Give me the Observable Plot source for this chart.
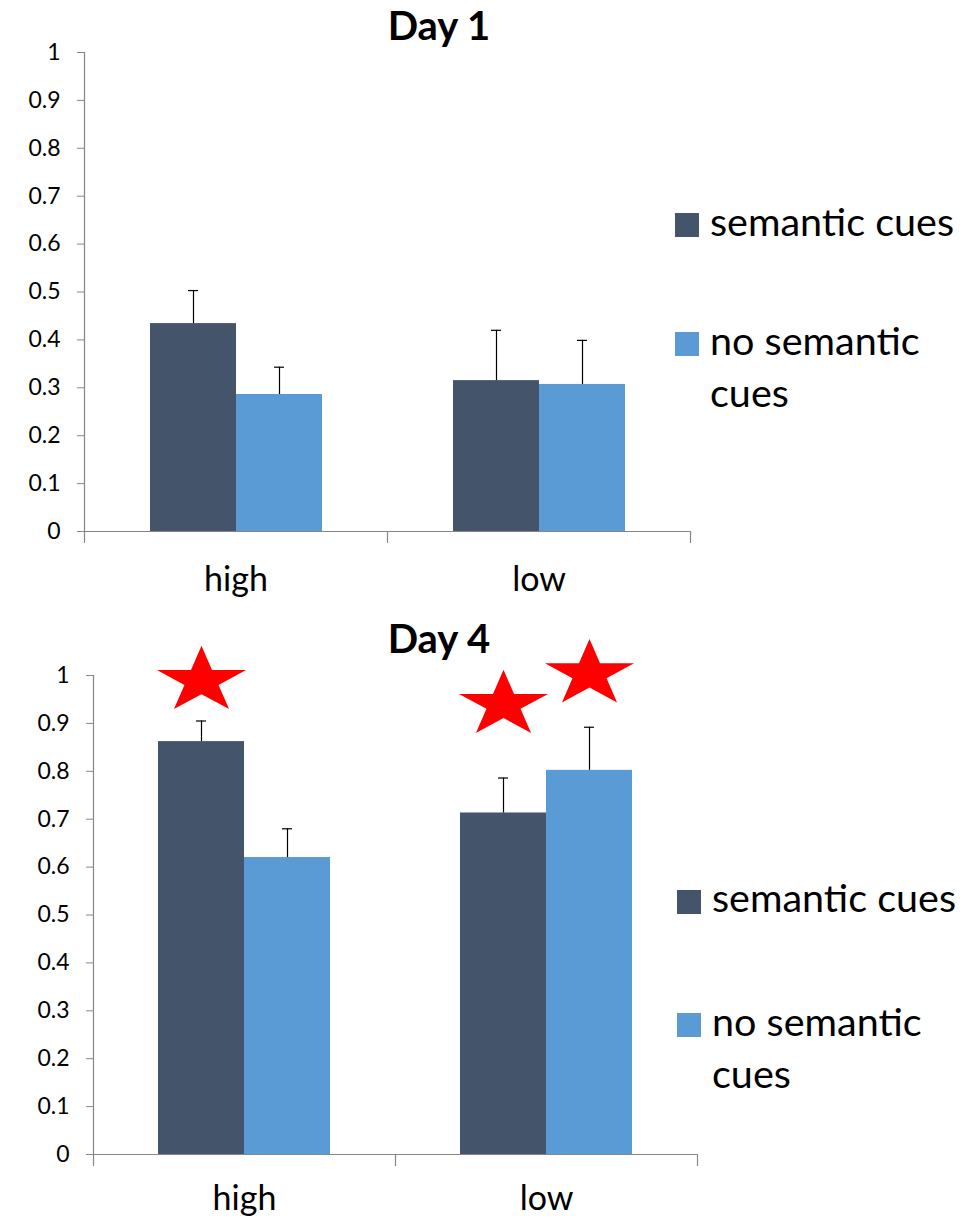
<!DOCTYPE html>
<html><head><meta charset="utf-8">
<script src="https://cdn.jsdelivr.net/npm/d3@7"></script>
<script src="https://cdn.jsdelivr.net/npm/@observablehq/plot@0.6"></script>
<style>
body{margin:0;background:#fff;font-family:Lato,sans-serif;}
#page{position:relative;width:963px;height:1219px;overflow:hidden;background:#fff;}
.chart{position:absolute;left:0;}
.title{position:absolute;font-weight:bold;font-size:40px;line-height:1;transform:translateX(-50%);white-space:nowrap;color:#000;}
.sw{position:absolute;width:24px;height:24px;}
.lt{position:absolute;font-size:39.5px;line-height:52px;white-space:nowrap;color:#000;}
</style></head><body><div id="page"></div>
<script>
// ---- data ----
const categories = ["high", "low"];
const series = ["semantic cues", "no semantic cues"];
const seriesColors = ["#44546A", "#5B9BD5"];
const yTickLabels = ["0","0.1","0.2","0.3","0.4","0.5","0.6","0.7","0.8","0.9","1"];

const day1Semantic = [0.434, 0.315];
const day1SemanticErr = [0.069, 0.105];
const day1NoSemantic = [0.286, 0.307];
const day1NoSemanticErr = [0.057, 0.092];

const day4Semantic = [0.862, 0.713];
const day4SemanticErr = [0.043, 0.073];
const day4NoSemantic = [0.620, 0.802];
const day4NoSemanticErr = [0.060, 0.090];

const day4StarCategories = ["high", "low", "low"];
const day4StarSeries = ["semantic cues", "semantic cues", "no semantic cues"];
const day4StarY = [0.989, 0.939, 1.003];

// ---- helpers ----
function rowsOf(sem, semErr, no, noErr) {
  return categories.flatMap((c, i) => [
    {cat: c, series: series[0], value: sem[i], err: semErr[i]},
    {cat: c, series: series[1], value: no[i], err: noErr[i]}
  ]);
}
const starSymbol = {
  draw(ctx, size) {
    const R = Math.sqrt(size / Math.PI), r = R * 0.382, sx = 1.34;
    for (let k = 0; k < 10; k++) {
      const rad = k % 2 ? r : R, a = Math.PI * k / 5;
      const px = Math.sin(a) * rad * sx, py = -Math.cos(a) * rad;
      if (k) ctx.lineTo(px, py); else ctx.moveTo(px, py);
    }
    ctx.closePath();
  }
};
const gray = "#868686";

function makeChart({rows, stars, height, marginTop, marginBottom, marginLeft, marginRight, labelPadding}) {
  const marks = [
    Plot.barY(rows, {fx: "cat", x: "series", y: "value", fill: "series"}),
    Plot.ruleX(rows, {fx: "cat", x: "series", y1: "value", y2: d => d.value + d.err, stroke: "#000", strokeWidth: 1.2}),
    Plot.tickY(rows, {fx: "cat", x: "series", y: d => d.value + d.err, stroke: "#000", strokeWidth: 1.2, insetLeft: 38, insetRight: 38}),
    Plot.ruleY([0], {stroke: gray, strokeWidth: 1.2}),
    Plot.frame({anchor: "left", facetAnchor: "left", stroke: gray, strokeWidth: 1.2}),
    Plot.vector(categories, {fx: d => d, frameAnchor: "bottom-left", length: 11, rotate: 180, anchor: "start", r: 0, stroke: gray, strokeWidth: 1.2}),
    Plot.vector([categories[categories.length - 1]], {fx: d => d, frameAnchor: "bottom-right", length: 11, rotate: 180, anchor: "start", r: 0, stroke: gray, strokeWidth: 1.2}),
    Plot.axisY({ticks: yTickLabels.map(Number), tickFormat: (d, i) => yTickLabels[i], tickSize: 7, tickPadding: 17, fontSize: 23, stroke: gray, fill: "#000", facetAnchor: "left", label: null}),
    Plot.axisFx({anchor: "bottom", tickSize: 0, tickPadding: labelPadding, fontSize: 34, fill: "#000", label: null})
  ];
  if (stars) marks.push(Plot.dot(stars, {fx: "cat", x: "series", y: "y", symbol: starSymbol, r: 35, fill: "#FF0000", stroke: "none"}));
  return Plot.plot({
    width: 963, height, marginTop, marginBottom, marginLeft, marginRight,
    fx: {domain: categories, padding: 0, axis: null, label: null},
    x: {domain: series, paddingInner: 0, paddingOuter: 0.744, axis: null, label: null},
    y: {domain: [0, 1], axis: null, label: null},
    color: {domain: series, range: seriesColors},
    style: {fontFamily: "Lato, sans-serif", background: "transparent", overflow: "visible"},
    marks
  });
}

const page = document.getElementById("page");
function place(el, top) { el.classList.add("chart"); el.style.top = top + "px"; page.appendChild(el); }

const c1 = makeChart({rows: rowsOf(day1Semantic, day1SemanticErr, day1NoSemantic, day1NoSemanticErr),
  height: 600, marginTop: 52, marginBottom: 69, marginLeft: 83, marginRight: 273, labelPadding: 35});
place(c1, 0);
const stars = day4StarY.map((y, i) => ({cat: day4StarCategories[i], series: day4StarSeries[i], y}));
const c2 = makeChart({rows: rowsOf(day4Semantic, day4SemanticErr, day4NoSemantic, day4NoSemanticErr), stars,
  height: 619, marginTop: 75, marginBottom: 65, marginLeft: 92, marginRight: 266, labelPadding: 31});
place(c2, 600);

function addTitle(text, cx, top) {
  const d = document.createElement("div"); d.className = "title"; d.textContent = text;
  d.style.left = cx + "px"; d.style.top = top + "px"; page.appendChild(d);
}
addTitle("Day 1", 439, 5);
addTitle("Day 4", 439, 618);

function addLegend(swLeft, txtLeft, items) {
  items.forEach((it, i) => {
    const s = document.createElement("div"); s.className = "sw";
    s.style.left = swLeft + "px"; s.style.top = it.swTop + "px"; s.style.background = seriesColors[i];
    page.appendChild(s);
    const t = document.createElement("div"); t.className = "lt";
    t.style.left = txtLeft + "px"; t.style.top = it.txtTop + "px";
    const words = series[i].split(" ");
    t.innerHTML = i === 0 ? series[i] : words.slice(0, 2).join(" ") + "<br>" + words.slice(2).join(" ");
    page.appendChild(t);
  });
}
addLegend(675, 710, [{swTop: 213, txtTop: 195}, {swTop: 332, txtTop: 314}]);
addLegend(677, 712, [{swTop: 890, txtTop: 871}, {swTop: 1013, txtTop: 995}]);
</script></body></html>
